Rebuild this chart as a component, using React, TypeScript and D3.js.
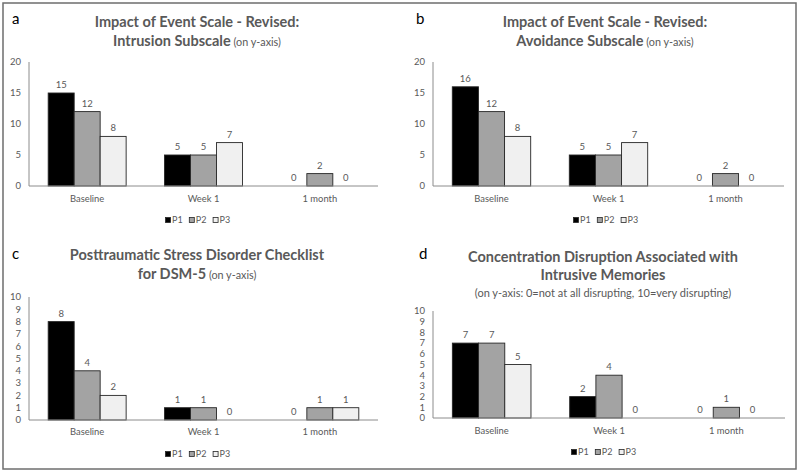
import React from "react";
import * as d3 from "d3";

const categories = ["Baseline", "Week 1", "1 month"];
const seriesNames = ["P1", "P2", "P3"];

// values per series (P1, P2, P3) across categories
const intrusionValues = [
  [15, 5, 0],
  [12, 5, 2],
  [8, 7, 0],
];
const avoidanceValues = [
  [16, 5, 0],
  [12, 5, 2],
  [8, 7, 0],
];
const pclValues = [
  [8, 1, 0],
  [4, 1, 1],
  [2, 0, 1],
];
const concentrationValues = [
  [7, 2, 0],
  [7, 4, 1],
  [5, 0, 0],
];

const ticks20 = [0, 5, 10, 15, 20];
const ticks10 = [0, 1, 2, 3, 4, 5, 6, 7, 8, 9, 10];

const fills = ["#000000", "#a3a3a3", "#f0f0f0"];
const FONT = "Lato, 'Open Sans', sans-serif";
const TXT = "#595959";

type TitleLine = { bold: string; normal?: string; y: number; normalOnly?: boolean };

type PanelCfg = {
  letter: string;
  letterX: number;
  letterY: number;
  titleX: number;
  lines: TitleLine[];
  values: number[][];
  ticks: number[];
  max: number;
  x0: number;
  x1: number;
  yTop: number;
  yBottom: number;
  catY: number;
  legendY: number;
};

const panels: PanelCfg[] = [
  {
    letter: "a", letterX: 12, letterY: 24, titleX: 197,
    lines: [
      { bold: "Impact of Event Scale - Revised:", y: 27 },
      { bold: "Intrusion Subscale", normal: " (on y-axis)", y: 46 },
    ],
    values: intrusionValues, ticks: ticks20, max: 20,
    x0: 29, x1: 378, yTop: 62, yBottom: 186, catY: 202, legendY: 220,
  },
  {
    letter: "b", letterX: 416, letterY: 24, titleX: 605,
    lines: [
      { bold: "Impact of Event Scale - Revised:", y: 27 },
      { bold: "Avoidance Subscale", normal: " (on y-axis)", y: 46 },
    ],
    values: avoidanceValues, ticks: ticks20, max: 20,
    x0: 433, x1: 784, yTop: 62, yBottom: 186, catY: 202, legendY: 220,
  },
  {
    letter: "c", letterX: 12, letterY: 259, titleX: 197,
    lines: [
      { bold: "Posttraumatic Stress Disorder Checklist", y: 260 },
      { bold: "for DSM-5", normal: " (on y-axis)", y: 279 },
    ],
    values: pclValues, ticks: ticks10, max: 10,
    x0: 29, x1: 378, yTop: 297, yBottom: 420, catY: 435, legendY: 454,
  },
  {
    letter: "d", letterX: 419, letterY: 259, titleX: 603,
    lines: [
      { bold: "Concentration Disruption Associated with", y: 262 },
      { bold: "Intrusive Memories", y: 280 },
      { bold: "", normal: "(on y-axis: 0=not at all disrupting, 10=very disrupting)", y: 297, normalOnly: true },
    ],
    values: concentrationValues, ticks: ticks10, max: 10,
    x0: 433, x1: 785, yTop: 311, yBottom: 418, catY: 434, legendY: 452,
  },
];

function Panel({ cfg }: { cfg: PanelCfg }) {
  const xCat = d3.scaleBand<string>().domain(categories).range([cfg.x0, cfg.x1]).paddingInner(0.33).paddingOuter(0.165);
  const xSer = d3.scaleBand<string>().domain(seriesNames).range([0, xCat.bandwidth()]);
  const y = d3.scaleLinear().domain([0, cfg.max]).range([cfg.yBottom, cfg.yTop]);
  const legendStart = cfg.titleX - 31.5;
  return (
    <g>
      <text x={cfg.letterX} y={cfg.letterY} fontFamily={FONT} fontSize={15} fill="#000">{cfg.letter}</text>
      {cfg.lines.map((l, i) => (
        <text key={i} x={cfg.titleX} y={l.y} textAnchor="middle" fontFamily={FONT} fill={TXT}>
          {l.bold && <tspan fontWeight="bold" fontSize={14.5}>{l.bold}</tspan>}
          {l.normal && <tspan fontSize={l.normalOnly ? 11 : 10.8}>{l.normal}</tspan>}
        </text>
      ))}
      {cfg.ticks.map((t) => (
        <text key={t} x={cfg.x0 - 8} y={y(t)} dy="0.35em" textAnchor="end" fontFamily={FONT} fontSize={9.5} fill={TXT}>{t}</text>
      ))}
      {cfg.values.map((vals, si) =>
        vals.map((v, ci) => {
          const bx = (xCat(categories[ci]) as number) + (xSer(seriesNames[si]) as number);
          const bw = xSer.bandwidth();
          return (
            <g key={`${si}-${ci}`}>
              {v > 0 && (
                <rect x={bx} y={y(v)} width={bw} height={y(0) - y(v)} fill={fills[si]} stroke="#262626" strokeWidth={0.9} />
              )}
              <text x={bx + bw / 2} y={y(v) - 5} textAnchor="middle" fontFamily={FONT} fontSize={9.5} fill={TXT}>{v}</text>
            </g>
          );
        })
      )}
      <line x1={cfg.x0} x2={cfg.x0} y1={cfg.yTop} y2={cfg.yBottom} stroke="#8c8c8c" strokeWidth={1} />
      <line x1={cfg.x0} x2={cfg.x1} y1={cfg.yBottom} y2={cfg.yBottom} stroke="#8c8c8c" strokeWidth={1} />
      {categories.map((c) => (
        <text key={c} x={(xCat(c) as number) + xCat.bandwidth() / 2} y={cfg.catY} textAnchor="middle" fontFamily={FONT} fontSize={9.4} fill={TXT}>{c}</text>
      ))}
      {seriesNames.map((s, i) => {
        const lx = legendStart + i * 23.8;
        return (
          <g key={s}>
            <rect x={lx} y={cfg.legendY - 2.5} width={5} height={5} fill={fills[i]} stroke="#262626" strokeWidth={0.8} />
            <text x={lx + 6.5} y={cfg.legendY} dy="0.35em" fontFamily={FONT} fontSize={9} fill={TXT}>{s}</text>
          </g>
        );
      })}
    </g>
  );
}

export default function App() {
  return (
    <svg width={800} height={473} style={{ position: "absolute", left: 0, top: 0, background: "#fff" }}>
      <rect x={0} y={0} width={800} height={473} fill="#fff" />
      <rect x={3} y={3} width={793} height={466} fill="none" stroke="#6e6e6e" strokeWidth={1.5} />
      {panels.map((p) => (
        <Panel key={p.letter} cfg={p} />
      ))}
    </svg>
  );
}
